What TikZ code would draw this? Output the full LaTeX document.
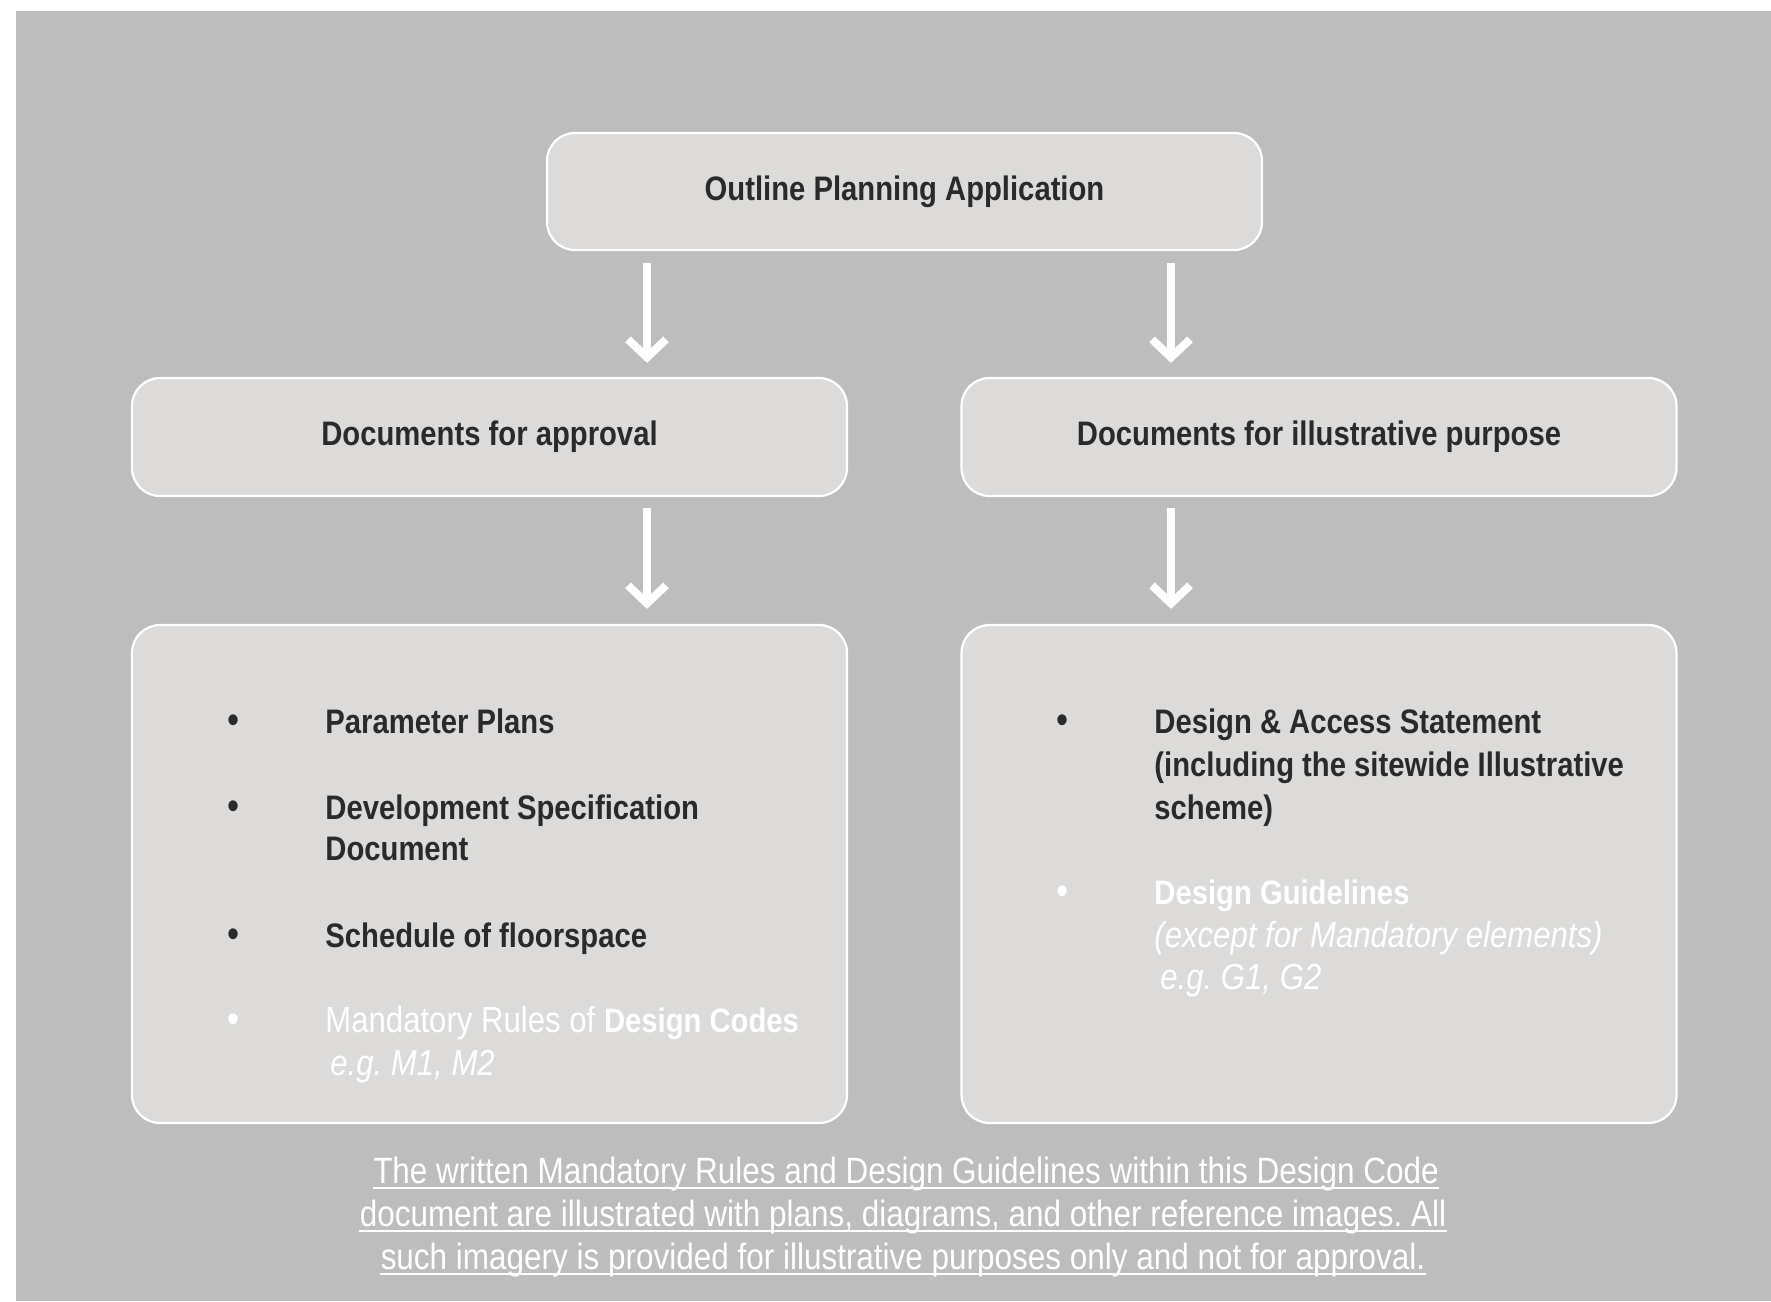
\documentclass[tikz,border=0pt]{standalone}
\usepackage{fontspec}
\setmainfont{Liberation Sans}[FakeStretch=0.86]
\usetikzlibrary{arrows.meta,calc}
\definecolor{bgc}{RGB}{189,189,189}
\definecolor{boxc}{RGB}{220,219,217}
\definecolor{txt}{RGB}{42,42,42}
\frenchspacing
\tikzset{
  pbox/.style={draw=white, line width=1.1pt, fill=boxc, rounded corners=14pt,
    minimum width=357.5pt, text=txt, font=\fontsize{17}{20}\selectfont\bfseries},
  arr/.style={draw=white, line width=3.8pt,
    -{Straight Barb[length=9pt,width=19pt,line width=4pt]}},
  itm/.style={anchor=base west, inner sep=0pt, text=txt,
    font=\fontsize{17}{20}\selectfont\bfseries},
  pale/.style={anchor=base west, inner sep=0pt, text=white,
    font=\fontsize{18.1}{20}\selectfont},
  dotd/.style={anchor=base, inner sep=0pt, text=txt, font=\fontsize{20}{20}\selectfont},
  dotp/.style={anchor=base, inner sep=0pt, text=white, font=\fontsize{20}{20}\selectfont},
  foot/.style={anchor=base, inner sep=0pt, text=white, font=\fontsize{18.3}{20}\selectfont},
  uline/.style={draw=white, line width=0.9pt}
}
\begin{document}
\begin{tikzpicture}[x=0.5pt,y=-0.5pt]
\useasboundingbox (0,0) rectangle (1771,1301);
\fill[white] (0,0) rectangle (1771,1301);
\fill[bgc] (16,11) rectangle (1771,1301);

% boxes
\node[pbox, minimum height=58.5pt] (top) at (904.5,191.5) {Outline Planning Application};
\node[pbox, minimum height=59pt] (ml) at (489.5,437) {Documents for approval};
\node[pbox, minimum height=59pt] (mr) at (1319,437) {Documents for illustrative purpose};
\node[pbox, minimum height=249pt] (bl) at (489.5,874) {};
\node[pbox, minimum height=249pt] (br) at (1319,874) {};

% arrows
\coordinate (xl) at (647,0);
\coordinate (xr) at (1171,0);
\draw[arr] ($(top.south -| xl)+(0,12)$) -- ($(ml.north -| xl)+(0,-14)$);
\draw[arr] ($(top.south -| xr)+(0,12)$) -- ($(mr.north -| xr)+(0,-14)$);
\draw[arr] ($(ml.south -| xl)+(0,11)$) -- ($(bl.north -| xl)+(0,-15)$);
\draw[arr] ($(mr.south -| xr)+(0,11)$) -- ($(br.north -| xr)+(0,-15)$);

% left list
\node[dotd] (lb1) at (234,733) {•};
\node[itm] (l1) at (325,733) {Parameter Plans};
\node[dotd] (lb2) at (234,819) {•};
\node[itm] (l2a) at (325,819) {Development Specification};
\node[itm] (l2b) at (325,860) {Document};
\node[dotd] (lb3) at (234,947) {•};
\node[itm] (l3) at (325,947) {Schedule of floorspace};
\node[dotp] (lb4) at (234,1032) {•};
\node[pale] (l4a) at (325,1032) {Mandatory Rules of \fontsize{17}{20}\selectfont\textbf{Design Codes}};
\node[pale] (l4b) at (330,1075) {\itshape e.g. M1, M2};

% right list
\node[dotd] (rb1) at (1063,733) {•};
\node[itm] (r1a) at (1154,733) {Design \& Access Statement};
\node[itm] (r1b) at (1154,776) {(including the sitewide Illustrative};
\node[itm] (r1c) at (1154,819) {scheme)};
\node[dotp] (rb2) at (1063,904) {•};
\node[pale] (r2a) at (1154,904) {\fontsize{17}{20}\selectfont\bfseries Design Guidelines};
\node[pale] (r2b) at (1154,947) {\itshape (except for Mandatory elements)};
\node[pale] (r2c) at (1160,989) {\itshape e.g. G1, G2};

% footnote
\node[foot] (f1) at (906,1183) {The written Mandatory Rules and Design Guidelines within this Design Code\ };
\node[foot] (f2) at (903,1226) {document are illustrated with plans, diagrams, and other reference images. All};
\node[foot] (f3) at (903,1269) {such imagery is provided for illustrative purposes only and not for approval.};
\draw[uline] ([yshift=-2.5pt]f1.base west) -- ([yshift=-2.5pt]f1.base east);
\draw[uline] ([yshift=-2.5pt]f2.base west) -- ([yshift=-2.5pt]f2.base east);
\draw[uline] ([yshift=-2.5pt]f3.base west) -- ([yshift=-2.5pt]f3.base east);
\end{tikzpicture}
\end{document}
